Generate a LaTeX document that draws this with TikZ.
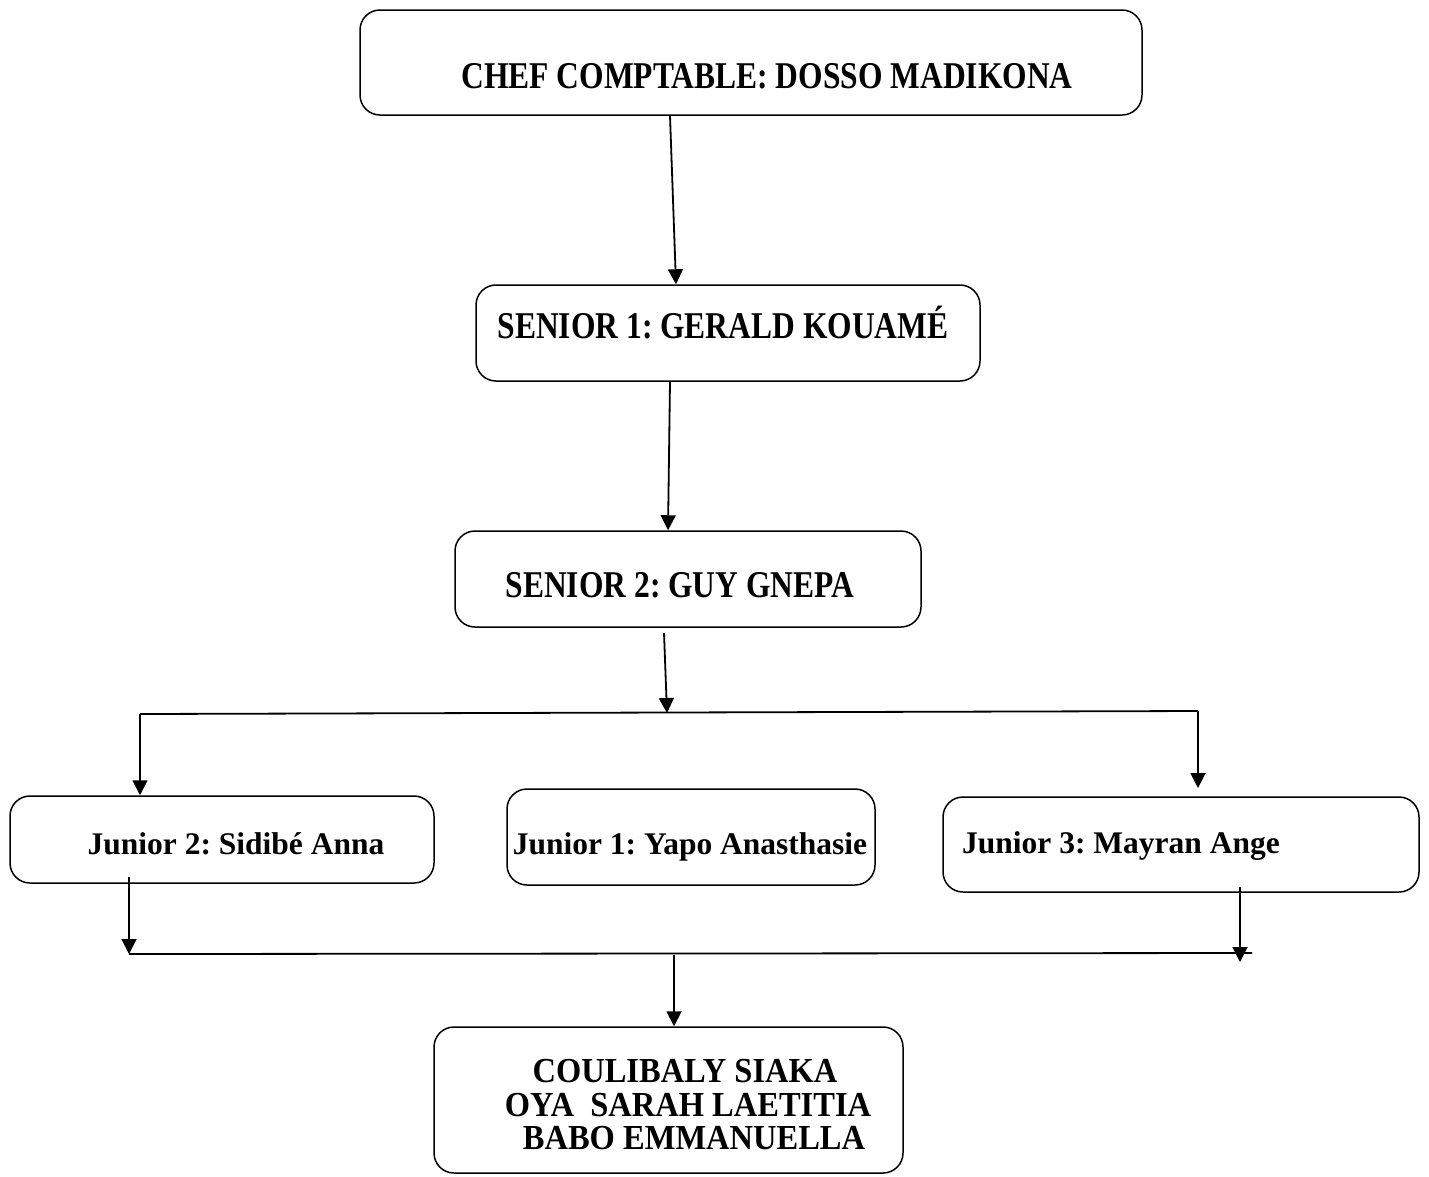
\documentclass[tikz,border=0pt]{standalone}
\usepackage{graphicx}
\usepackage{fontspec}
\setmainfont{Liberation Serif}
\usetikzlibrary{arrows.meta}
\frenchspacing
\begin{document}
\begin{tikzpicture}[x=1pt,y=-1pt,
  box/.style={draw, line width=1.5pt, rounded corners=20pt, inner sep=0pt},
  lbl/.style={font=\fontsize{31.5}{36}\selectfont\bfseries, anchor=base, inner sep=0pt},
  lblb/.style={font=\fontsize{32.5}{36}\selectfont\bfseries, anchor=base, inner sep=0pt},
  conn/.style={line width=1.8pt},
  arr/.style={conn, -{Triangle[length=15pt,width=15pt]}}]
\useasboundingbox (0,0) rectangle (1429,1176);
% boxes
\node[box, minimum width=782pt, minimum height=105pt] (chef) at (751,62.5) {};
\node[box, minimum width=504pt, minimum height=96pt] (s1) at (728,333) {};
\node[box, minimum width=466pt, minimum height=96pt] (s2) at (688,579) {};
\node[box, minimum width=424pt, minimum height=87pt] (j2) at (222,839.5) {};
\node[box, minimum width=368pt, minimum height=96pt] (j1) at (691,837) {};
\node[box, minimum width=476pt, minimum height=95pt] (j3) at (1181,844.5) {};
\node[box, minimum width=469pt, minimum height=146pt] (bot) at (668.5,1100) {};
% labels
\node[lbl] (tchef) at (767,88) {\scalebox{1}[1.2]{CHEF COMPTABLE: DOSSO MADIKONA}};
\node[lbl] (ts1) at (723,338) {\scalebox{1}[1.2]{SENIOR 1: GERALD KOUAMÉ}};
\node[lbl] (ts2) at (680,597) {\scalebox{1}[1.2]{SENIOR 2: GUY GNEPA}};
\node[lbl] (tj2) at (236,854) {Junior 2: Sidibé Anna};
\node[lbl] (tj1) at (690,854) {Junior 1: Yapo Anasthasie};
\node[lbl] (tj3) at (1121,853) {Junior 3: Mayran Ange};
\node[lblb] (tb1) at (685,1082) {\scalebox{1}[1.08]{COULIBALY SIAKA}};
\node[lblb] (tb2) at (688,1116) {\scalebox{1}[1.08]{OYA\ \ SARAH LAETITIA}};
\node[lblb] (tb3) at (694,1149) {\scalebox{1}[1.08]{BABO EMMANUELLA}};
% coordinates
\coordinate (s2o) at (664,633);
\coordinate (jt) at (667,713);
\coordinate (hl) at (140,714);
\coordinate (hr) at (1198,711);
\coordinate (j3in) at (1198,788);
\coordinate (j2o) at (129,877);
\coordinate (ll) at (129,954);
\coordinate (lr) at (1252,953);
\coordinate (j3o) at (1240,887);
\coordinate (j3t) at (1240,962);
\coordinate (bo) at (674,955);
% connectors
\draw[arr] (chef.south -| 670,0) -- (s1.north -| 676,0);
\draw[arr] (s1.south -| 670,0) -- (s2.north -| 668,0);
\draw[arr] (s2o) -- (jt);
\draw[conn] (hl) -- (hr);
\draw[arr] (hl) -- (j2.north -| 140,0);
\draw[arr] (hr) -- (j3in);
\draw[arr] (j2o) -- (ll);
\draw[arr] (j3o) -- (j3t);
\draw[conn] (ll) -- (lr);
\draw[arr] (bo) -- (bot.north -| 674,0);
\end{tikzpicture}
\end{document}
